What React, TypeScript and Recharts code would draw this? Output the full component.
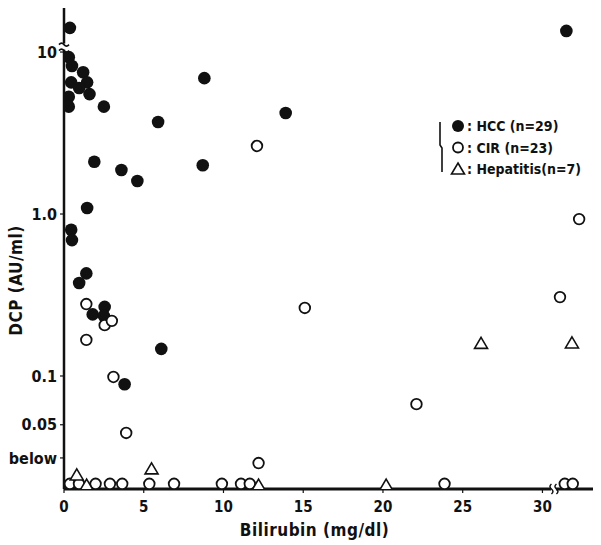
import { ScatterChart, Scatter, XAxis, YAxis, Legend, ReferenceDot } from "recharts";

const FONT = "'DejaVu Sans Condensed', 'Liberation Sans Narrow', 'DejaVu Sans', sans-serif";
const INK = "#111";

const X_TICKS = [0, 5, 10, 15, 20, 25, 30];
const Y_TICKS = [0.0312, 0.05, 0.1, 1, 10];
const Y_TICK_LABELS = ["below", "0.05", "0.1", "1.0", "10"];

// HCC (filled circles)
const HCC_BILIRUBIN = [0.37, 0.3, 0.5, 1.2, 0.45, 1.45, 0.95, 1.6, 0.3, 0.3, 2.5, 5.9, 1.9, 3.6, 4.6, 8.8, 8.7, 13.9, 31.5, 1.45, 0.45, 0.5, 1.4, 0.95, 1.8, 2.55, 2.5, 6.1, 3.8];
const HCC_DCP = [14.1, 9.3, 8.2, 7.5, 6.5, 6.5, 6.0, 5.5, 5.3, 4.6, 4.6, 3.7, 2.1, 1.87, 1.6, 6.9, 2.0, 4.2, 13.5, 1.09, 0.8, 0.69, 0.43, 0.375, 0.24, 0.267, 0.235, 0.147, 0.089];

// CIR (open circles)
const CIR_BILIRUBIN = [1.4, 2.55, 3.0, 1.4, 3.1, 3.9, 12.1, 15.1, 22.1, 31.1, 32.3, 12.2, 0.37, 0.94, 1.98, 2.88, 3.65, 5.35, 6.9, 9.9, 11.1, 11.65, 23.86, 31.4, 31.9];
const CIR_DCP = [0.278, 0.206, 0.219, 0.167, 0.0986, 0.0445, 2.63, 0.263, 0.067, 0.307, 0.93, 0.029, 0.0216, 0.0216, 0.0216, 0.0216, 0.0216, 0.0216, 0.0216, 0.0216, 0.0216, 0.0216, 0.0216, 0.0216, 0.0216];

// Hepatitis (open triangles)
const HEP_BILIRUBIN = [0.8, 1.42, 5.49, 12.2, 20.2, 26.15, 31.85];
const HEP_DCP = [0.0245, 0.0212, 0.0267, 0.0212, 0.0212, 0.159, 0.16];

const LEGEND_LABELS = [": HCC (n=29)", ": CIR (n=23)", ": Hepatitis(n=7)"];

const toPoints = (xs: number[], ys: number[]) => xs.map((x, i) => ({ bilirubin: x, dcp: ys[i] }));

const hcc = toPoints(HCC_BILIRUBIN, HCC_DCP);
const cir = toPoints(CIR_BILIRUBIN, CIR_DCP);
const hep = toPoints(HEP_BILIRUBIN, HEP_DCP);

const FilledDot = (p: any) => <circle cx={p.cx} cy={p.cy} r={6.3} fill={INK} />;
const OpenDot = (p: any) => <circle cx={p.cx} cy={p.cy} r={5.3} fill="#fff" stroke={INK} strokeWidth={1.8} />;
const Triangle = (p: any) => (
  <path d={`M${p.cx},${p.cy - 6} L${p.cx + 6.5},${p.cy + 5} L${p.cx - 6.5},${p.cy + 5} Z`} fill="#fff" stroke={INK} strokeWidth={1.6} />
);

// axis break marks
const YBreak = (p: any) => (
  <g>
    <rect x={p.cx - 3} y={p.cy - 3} width={6} height={6} fill="#fff" />
    <path d={`M${p.cx - 5},${p.cy - 2} q2.5,-3 5,0 t5,0`} fill="none" stroke={INK} strokeWidth={1.6} />
    <path d={`M${p.cx - 5},${p.cy + 4} q2.5,-3 5,0 t5,0`} fill="none" stroke={INK} strokeWidth={1.6} />
  </g>
);
const XBreak = (p: any) => (
  <g>
    <rect x={p.cx - 2.5} y={p.cy - 3} width={5} height={6} fill="#fff" />
    <path d={`M${p.cx - 2},${p.cy - 5} q-3,2.5 0,5 t0,5`} fill="none" stroke={INK} strokeWidth={1.5} />
    <path d={`M${p.cx + 3},${p.cy - 5} q-3,2.5 0,5 t0,5`} fill="none" stroke={INK} strokeWidth={1.5} />
  </g>
);

const XTitle = (props: any) => {
  const vb = props.viewBox || { x: 64, y: 489, width: 529, height: 56 };
  return (
    <text x={vb.x + vb.width / 2 - 14} y={vb.y + 47} textAnchor="middle" fontFamily={FONT} fontWeight="bold" fontSize={17} fill={INK} letterSpacing={0.5}>
      Bilirubin  (mg/dl)
    </text>
  );
};

const YTitle = (props: any) => {
  const vb = props.viewBox || { x: 0, y: 8, width: 64, height: 481 };
  const cx = 16;
  const cy = vb.y + vb.height / 2 + 32;
  return (
    <text x={cx} y={cy} transform={`rotate(-90 ${cx} ${cy})`} textAnchor="middle" dominantBaseline="central" fontFamily={FONT} fontWeight="bold" fontSize={17} fill={INK} letterSpacing={0.5}>
      DCP  (AU/ml)
    </text>
  );
};

const renderLegend = () => (
  <svg width={170} height={64} style={{ display: "block" }}>
    <path d="M6,8 L6,31 L8,34 L8,58" fill="none" stroke={INK} strokeWidth={1.6} />
    {LEGEND_LABELS.map((label, i) => {
      const y = 12 + i * 21.5;
      return (
        <g key={label}>
          {i === 0 && <circle cx={24} cy={y} r={6} fill={INK} />}
          {i === 1 && <circle cx={24} cy={y} r={5} fill="#fff" stroke={INK} strokeWidth={1.8} />}
          {i === 2 && <path d={`M24,${y - 6} L30.5,${y + 5} L17.5,${y + 5} Z`} fill="#fff" stroke={INK} strokeWidth={1.6} />}
          <text x={33} y={y} dominantBaseline="central" fontFamily={FONT} fontWeight="bold" fontSize={14} fill={INK}>
            {label}
          </text>
        </g>
      );
    })}
  </svg>
);

const App = () => {
  return (
    <div style={{ position: "absolute", left: 0, top: 0, background: "#fff", fontFamily: FONT }}>
      <ScatterChart width={601} height={545} margin={{ top: 8, right: 8, bottom: 0, left: 0 }}>
        <XAxis
          type="number"
          dataKey="bilirubin"
          domain={[0, 33.17]}
          ticks={X_TICKS}
          allowDataOverflow
          height={56}
          tickSize={4}
          tickMargin={8}
          tick={{ fontSize: 15, fill: INK, fontFamily: FONT, fontWeight: "bold" }}
          axisLine={{ stroke: INK, strokeWidth: 2.8 }}
          tickLine={{ stroke: INK, strokeWidth: 1.2 }}
          label={<XTitle />}
        />
        <YAxis
          type="number"
          dataKey="dcp"
          scale="log"
          domain={[0.02006, 18.7]}
          ticks={Y_TICKS}
          allowDataOverflow
          width={64}
          tickSize={4}
          tickMargin={3}
          tickFormatter={(v: number) => Y_TICK_LABELS[Y_TICKS.indexOf(v)] ?? ""}
          tick={{ fontSize: 16, fill: INK, fontFamily: FONT, fontWeight: "bold" }}
          axisLine={{ stroke: INK, strokeWidth: 2.5 }}
          tickLine={{ stroke: INK, strokeWidth: 1.2 }}
          label={<YTitle />}
        />
        <Scatter name="HCC" data={hcc} shape={FilledDot} isAnimationActive={false} />
        <Scatter name="CIR" data={cir} shape={OpenDot} isAnimationActive={false} />
        <Scatter name="Hepatitis" data={hep} shape={Triangle} isAnimationActive={false} />
        <ReferenceDot x={0} y={10.8} ifOverflow="visible" shape={YBreak} />
        <ReferenceDot x={30.69} y={0.02006} ifOverflow="visible" shape={XBreak} />
        <Legend
          layout="horizontal"
          verticalAlign="middle"
          align="center"
          content={renderLegend}
          wrapperStyle={{ left: 434, top: 114, width: 170, height: 64 }}
        />
      </ScatterChart>
    </div>
  );
};

export default App;
